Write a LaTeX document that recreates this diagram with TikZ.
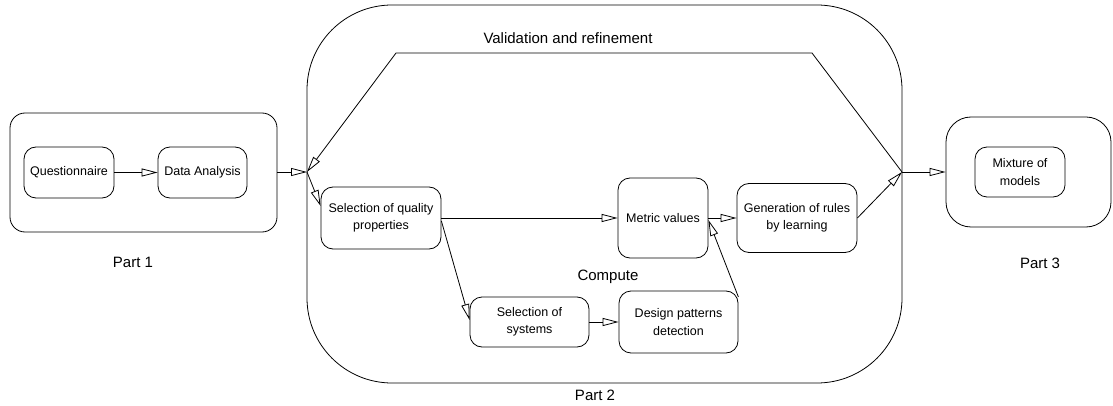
\documentclass[tikz,border=0pt]{standalone}
\usepackage{fontspec}
\setmainfont{Liberation Sans}
\usetikzlibrary{arrows.meta,calc}
\begin{document}
\begin{tikzpicture}[x=1pt,y=-1pt,
  line width=0.8pt,
  box/.style={draw, rounded corners=12pt, align=center, inner sep=0pt,
    font=\fontsize{12.5}{17.5}\selectfont},
  part/.style={draw, inner sep=0pt},
  lbl/.style={font=\fontsize{15}{18}\selectfont, inner sep=0pt},
  arr/.style={-{Triangle[open,length=16pt,width=8pt,line width=0.8pt]}},
  ]
\useasboundingbox (0,0) rectangle (1113,406);
% containers
\node[part, rounded corners=15pt, minimum width=267pt, minimum height=119pt] (p1) at (143.5,172.5) {};
\node[part, rounded corners=85pt, minimum width=595pt, minimum height=378pt] (p2) at (604.5,194) {};
\node[part, rounded corners=25pt, minimum width=165pt, minimum height=110pt] (p3) at (1028.5,172) {};
% labels
\node[lbl] (l1) at (133,262) {Part 1};
\node[lbl] (l2) at (595,395) {Part 2};
\node[lbl] (l3) at (1040,263) {Part 3};
\node[lbl] (lc) at (608,277) {Compute};
\node[lbl] (lv) at (568,38) {Validation and refinement};
% boxes
\node[box, minimum width=90pt, minimum height=51pt] (q) at (69,172.5) {Questionnaire};
\node[box, minimum width=89pt, minimum height=51pt] (da) at (202.5,172.5) {Data Analysis};
\node[box, minimum width=120pt, minimum height=62pt] (sq) at (381,218) {Selection of quality\\properties};
\node[box, minimum width=90pt, minimum height=80pt] (mv) at (663,218) {Metric values};
\node[box, minimum width=120pt, minimum height=69pt] (gr) at (797,218) {Generation of rules\\by learning};
\node[box, minimum width=119pt, minimum height=50pt] (ss) at (529.5,322) {Selection of\\systems};
\node[box, minimum width=119pt, minimum height=62pt] (dp) at (678.5,322) {Design patterns\\detection};
\node[box, minimum width=90pt, minimum height=50pt] (mm) at (1020,172) {Mixture of\\models};
% junctions
\coordinate (jL) at (307,172);
\coordinate (jR) at (902,172);
\coordinate (vL) at (396,53);
\coordinate (vR) at (812,53);
% connectors
\draw[arr] (q.east) -- (da.west);
\draw[arr] (p1.east |- jL) -- (jL);
\draw[arr] (jR) -- (vR) -- (vL) -- (jL);
\draw[arr] (jL) -- ([yshift=12pt]sq.west);
\draw[arr] (sq.east) -- (mv.west);
\draw[arr] ([yshift=-3pt]sq.east) -- ([yshift=2pt]ss.west);
\draw[arr] (ss.east) -- (dp.west);
\draw[arr] ([yshift=25pt]dp.east) -- ([yshift=-2pt]mv.east);
\draw[arr] (mv.east) -- (gr.west);
\draw[arr] (gr.east) -- (jR);
\draw[arr] (jR) -- (p3.west |- jR);
\end{tikzpicture}
\end{document}
